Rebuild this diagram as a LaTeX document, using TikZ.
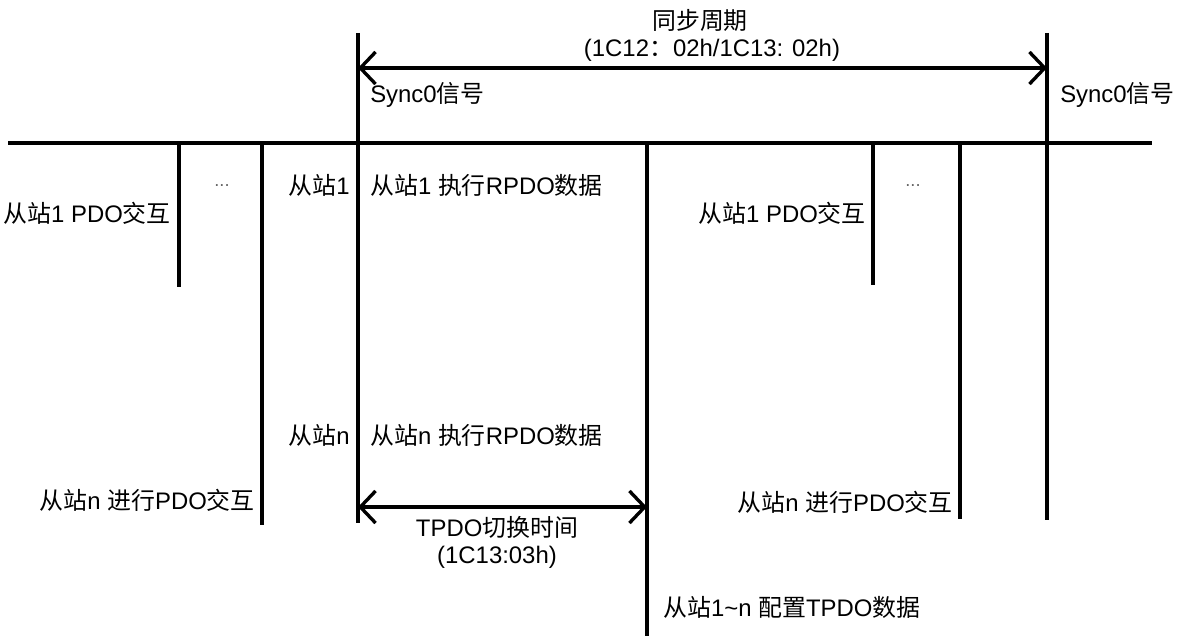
\documentclass[tikz,border=0pt]{standalone}
\usepackage{fontspec}
\setmainfont{Liberation Sans}
\newfontfamily\cjk{Noto Sans CJK SC}
\newcommand{\zh}[1]{{\cjk #1}}
\usetikzlibrary{arrows.meta,positioning}

\begin{document}
\begin{tikzpicture}[x=0.025cm, y=-0.025cm,
  timeline/.style={line width=2.4pt},
  span/.style={{Straight Barb[length=3.8mm,width=8mm,line width=2.4pt]}-{Straight Barb[length=3.8mm,width=8mm,line width=2.4pt]}, line width=2.4pt},
  txt/.style={inner sep=0pt, font=\fontsize{17}{20}\selectfont},
  dots/.style={inner sep=0pt, font=\fontsize{13}{15}\selectfont, text=black!60}
]
\useasboundingbox (0,0) rectangle (1180,637);

% bus and sync signals
\coordinate (bus-l) at (8,143);
\coordinate (bus-r) at (1152,143);
\coordinate (synca-top) at (358,33);
\coordinate (synca-bot) at (358,523);
\coordinate (syncb-top) at (1047,33);
\coordinate (syncb-bot) at (1047,520);

% slave edges
\coordinate (s1a-top) at (179,143);
\coordinate (s1a-bot) at (179,287);
\coordinate (sna-top) at (262,143);
\coordinate (sna-bot) at (262,525);
\coordinate (tpdo-top) at (647,143);
\coordinate (tpdo-bot) at (647,636);
\coordinate (s1b-top) at (873,143);
\coordinate (s1b-bot) at (873,285);
\coordinate (snb-top) at (960,143);
\coordinate (snb-bot) at (960,519);

% dimension arrows
\coordinate (cycle-l) at (358,68);
\coordinate (cycle-r) at (1047,68);
\coordinate (switch-l) at (358,507);
\coordinate (switch-r) at (647,507);

\draw[timeline] (bus-l) -- (bus-r);
\draw[timeline] (synca-top) -- (synca-bot);
\draw[timeline] (syncb-top) -- (syncb-bot);
\draw[timeline] (s1a-top) -- (s1a-bot);
\draw[timeline] (sna-top) -- (sna-bot);
\draw[timeline] (tpdo-top) -- (tpdo-bot);
\draw[timeline] (s1b-top) -- (s1b-bot);
\draw[timeline] (snb-top) -- (snb-bot);

\draw[span] (cycle-l) -- (cycle-r);
\draw[span] (switch-l) -- (switch-r);

% Sync period
\node[txt] (cycle) at (700,20) {\zh{同步周期}};
\node[txt] (cycle-reg) at (712,50) {(1C12\zh{：}02h/1C13: 02h)};
\node[txt, anchor=west] (sync-a) at (370,95) {Sync0\zh{信号}};
\node[txt, anchor=west] (sync-b) at (1060,95) {Sync0\zh{信号}};

% left cycle
\node[txt, anchor=east] (pdo1-a) at (171,213) {\zh{从站}1 PDO\zh{交互}};
\node[dots] (dots-a) at (222,186) {...};
\node[txt, anchor=east] (pdon-a) at (255,500) {\zh{从站}n \zh{进行}PDO\zh{交互}};

% RPDO execution
\node[txt, anchor=east] (slave1) at (350,185) {\zh{从站}1};
\node[txt, anchor=west] (rpdo1) at (370,185) {\zh{从站}1 \zh{执行}RPDO\zh{数据}};
\node[txt, anchor=east] (slaven) at (350,435) {\zh{从站}n};
\node[txt, anchor=west] (rpdon) at (370,435) {\zh{从站}n \zh{执行}RPDO\zh{数据}};

% TPDO switch
\node[txt] (switch) at (497,527) {TPDO\zh{切换时间}};
\node[txt] (switch-reg) at (497,557) {(1C13:03h)};
\node[txt, anchor=west] (tpdo) at (663,607) {\zh{从站}1\textasciitilde n \zh{配置}TPDO\zh{数据}};

% right cycle
\node[txt, anchor=east] (pdo1-b) at (866,213) {\zh{从站}1 PDO\zh{交互}};
\node[dots] (dots-b) at (913,186) {...};
\node[txt, anchor=east] (pdon-b) at (953,502) {\zh{从站}n \zh{进行}PDO\zh{交互}};

\end{tikzpicture}
\end{document}
